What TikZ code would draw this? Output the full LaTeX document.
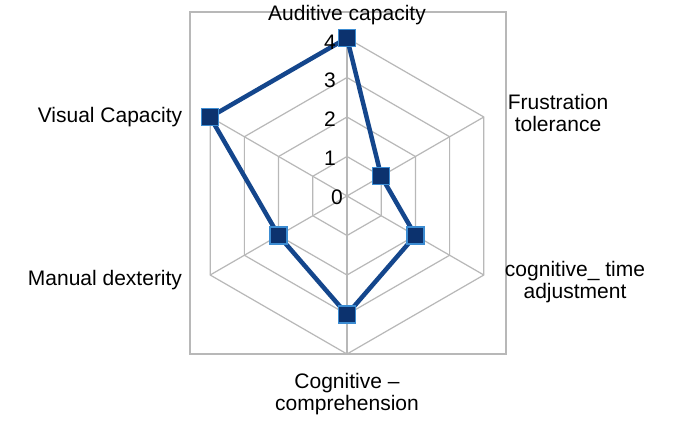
\documentclass[tikz,border=0pt]{standalone}
\usepackage{fontspec}
\setmainfont{Liberation Sans}
\usetikzlibrary{calc}
\begin{document}
\begin{tikzpicture}[x=1pt,y=-1pt,
  grid/.style={draw=black!28,line width=1.2pt},
  series/.style={draw={rgb,255:red,20;green,70;blue,140},line width=4.5pt,line join=round},
  mk/.style={rectangle,minimum size=17pt,inner sep=0pt,fill={rgb,255:red,12;green,50;blue,110},draw={rgb,255:red,60;green,140;blue,210},line width=1.2pt},
  lab/.style={font=\fontsize{21}{22}\selectfont,align=center,inner sep=0pt},
  tick/.style={font=\fontsize{21}{22}\selectfont,inner sep=0pt}]
\useasboundingbox (0,0) rectangle (679,430);
\fill[white] (0,0) rectangle (679,430);
\draw[grid] (190,12) rectangle (506,354);
\coordinate (c) at (347,196);
\foreach \r in {39.5,79,118.5,158}{
  \draw[grid] ($(c)+(90:\r)$) \foreach \a in {30,-30,-90,-150,150}{ -- ($(c)+(\a:\r)$)} -- cycle;
}
\foreach \a in {90,30,-30,-90,-150,150}{\draw[grid] (c) -- ($(c)+(\a:158)$);}
\coordinate (p1) at ($(c)+(-90:158)$);
\coordinate (p2) at ($(c)+(-30:39.5)$);
\coordinate (p3) at ($(c)+(30:79)$);
\coordinate (p4) at ($(c)+(90:118.5)$);
\coordinate (p5) at ($(c)+(150:79)$);
\coordinate (p6) at ($(c)+(210:158)$);
\draw[series] (p1)--(p2)--(p3)--(p4)--(p5)--(p6)--cycle;
\foreach \p in {p1,p2,p3,p4,p5,p6}{\node[mk] at (\p) {};}
\node[tick] (t4) at (330,42) {4};
\node[tick] (t3) at (330,80) {3};
\node[tick] (t2) at (330,119) {2};
\node[tick] (t1) at (330,158) {1};
\node[tick] (t0) at (337,197) {0};
\node[lab] (l1) at (347,15) {Auditive capacity};
\node[lab] (l2) at (558,113) {Frustration\\tolerance};
\node[lab] (l3) at (575,282) {cognitive\_ time\\adjustment};
\node[lab] (l4) at (347,394) {Cognitive –\\comprehension};
\node[lab] (l5) at (105,280) {Manual dexterity};
\node[lab] (l6) at (110,117) {Visual Capacity};
\end{tikzpicture}
\end{document}
